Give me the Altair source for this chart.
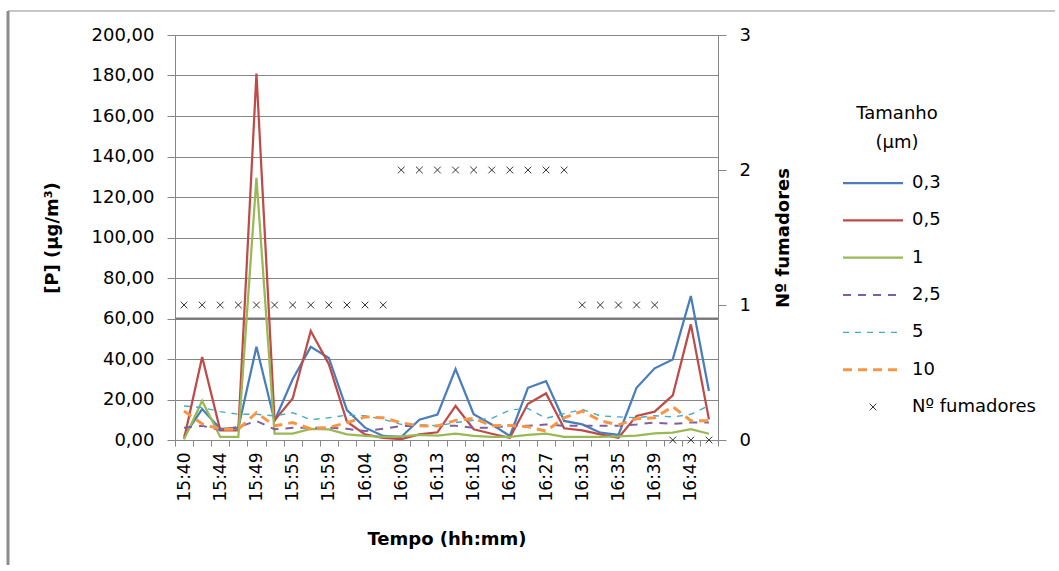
import altair as alt
import pandas as pd

# Measurement instants (one category per reading); every second one is labelled
times = ["15:40", "15:42", "15:44", "15:47", "15:49", "15:52", "15:55", "15:57",
         "15:59", "16:01", "16:04", "16:06", "16:09", "16:11", "16:13", "16:15",
         "16:18", "16:20", "16:23", "16:25", "16:27", "16:29", "16:31", "16:33",
         "16:35", "16:37", "16:39", "16:41", "16:43", "16:45"]
tick_labels = ["15:40", "15:44", "15:49", "15:55", "15:59", "16:04", "16:09", "16:13",
               "16:18", "16:23", "16:27", "16:31", "16:35", "16:39", "16:43"]

# Particle concentration [P] (µg/m³) per particle size
p_03 = [2.0, 15.3, 5.5, 6.0, 46.0, 9.5, 30.0, 46.0, 40.5, 14.8, 6.1, 2.0, 1.5, 10.0, 12.5,
        35.0, 12.7, 7.7, 2.0, 25.8, 29.1, 9.4, 7.7, 3.6, 2.5, 25.8, 35.4, 39.8, 71.1, 24.2]
p_05 = [0.5, 41.0, 4.8, 4.8, 181.0, 9.7, 20.5, 53.8, 37.4, 9.0, 2.8, 1.1, 0.4, 2.8, 3.8,
        16.8, 5.3, 3.1, 1.1, 17.9, 23.0, 5.8, 4.8, 2.8, 1.1, 11.9, 14.0, 22.0, 57.1, 10.2]
p_1 = [0.3, 19.3, 1.5, 1.5, 129.5, 3.2, 3.2, 5.5, 5.2, 2.8, 2.0, 1.5, 1.8, 2.5, 2.2,
       3.1, 2.0, 1.6, 1.6, 2.5, 3.1, 1.6, 1.6, 1.6, 1.8, 2.2, 3.3, 3.6, 5.3, 3.1]
p_25 = [6.1, 7.0, 5.0, 6.4, 9.4, 5.3, 6.0, 6.1, 6.1, 5.5, 4.4, 5.5, 6.9, 7.0, 7.0,
        7.0, 6.0, 6.1, 7.0, 7.0, 7.7, 7.0, 7.0, 7.0, 7.0, 7.7, 8.6, 8.0, 8.6, 8.6]
p_5 = [16.8, 16.0, 14.0, 12.7, 12.7, 11.9, 13.5, 10.0, 11.0, 12.3, 12.0, 10.2, 7.7, 7.5, 7.0,
       8.6, 9.7, 10.7, 14.8, 15.6, 10.7, 13.0, 15.1, 11.9, 11.4, 11.0, 12.0, 11.4, 12.7, 17.0]
p_10 = [14.3, 8.0, 5.3, 5.3, 13.5, 7.0, 8.6, 5.5, 6.2, 8.5, 11.4, 11.0, 8.5, 7.0, 6.9,
        9.7, 10.7, 7.0, 7.2, 6.5, 4.4, 11.0, 14.3, 9.5, 7.5, 10.5, 11.0, 16.5, 9.5, 9.5]

# Number of smokers present
fumadores = [1, 1, 1, 1, 1, 1, 1, 1, 1, 1, 1, 1,
             2, 2, 2, 2, 2, 2, 2, 2, 2, 2,
             1, 1, 1, 1, 1,
             0, 0, 0]

series_names = ["0,3", "0,5", "1", "2,5", "5", "10"]
series_values = [p_03, p_05, p_1, p_25, p_5, p_10]
smokers_label = "Nº fumadores"

# Styling
FONT = "DejaVu Sans"
FS = 18          # horizontal text
FS_ROT = 17      # rotated tick labels
GRID = "#868686"
series_colors = ["#4A7EBB", "#BE4B48", "#98B954", "#7D60A0", "#46AAC5", "#F79646"]
series_dash = [None, None, None, [8, 7], [6, 6], [9, 6]]
series_width = [2.25, 2.25, 2.25, 2.0, 1.4, 3.0]
CROSS = "M-1,-1L1,1M1,-1L-1,1"

W, H = 543, 405

label_expr_x = ("indexof([" + ",".join("'%s'" % t for t in tick_labels) +
                "], datum.value) >= 0 ? datum.value : ''")

x_enc = alt.X(
    "tempo:N",
    sort=times,
    bandPosition=0.5,
    scale=alt.Scale(type="band", domain=times, paddingInner=0, paddingOuter=0),
    axis=alt.Axis(
        title="Tempo (hh:mm)", titleFontWeight="bold", titleFontSize=FS,
        titlePadding=30, labelAngle=270, labelFontSize=FS_ROT, labelPadding=6,
        labelExpr=label_expr_x, labelOverlap=False, tickBand="extent",
        tickSize=6, tickColor=GRID, domainColor=GRID, labelColor="#000",
        grid=False,
    ),
)

y_left = alt.Y(
    "valor:Q",
    scale=alt.Scale(domain=[0, 200], nice=False, zero=True),
    axis=alt.Axis(
        title="[P] (µg/m³)", titleFontWeight="bold", titleFontSize=FS,
        titlePadding=30, values=list(range(0, 201, 20)),
        labelExpr="replace(format(datum.value, '.2f'), '.', ',')",
        labelFontSize=FS, labelPadding=13, tickSize=8, tickColor=GRID,
        domainColor=GRID, grid=True, gridColor=GRID, gridWidth=1,
        labelColor="#000",
    ),
)

layers = []
for name, vals, col, dash, sw in zip(series_names, series_values, series_colors,
                                     series_dash, series_width):
    df = pd.DataFrame({"tempo": times, "valor": vals, "serie": name})
    kw = dict(color=col, strokeWidth=sw)
    if dash:
        kw["strokeDash"] = dash
    layers.append(alt.Chart(df).mark_line(**kw).encode(x=x_enc, y=y_left))

# darker reference line at 60
line60 = alt.Chart(pd.DataFrame({"valor": [60]})).mark_rule(
    color="#7a7a7a", strokeWidth=2).encode(y=y_left)

# outer chart frame
one = alt.Data(values=[{"f": 1}])
frame_left = alt.Chart(one).mark_rule(color="#8c8c8c", strokeWidth=3).encode(
    x=alt.value(-167), y=alt.value(-24), y2=alt.value(530))
frame_top = alt.Chart(one).mark_rule(color="#8c8c8c", strokeWidth=1).encode(
    x=alt.value(-167), x2=alt.value(880), y=alt.value(-24))

left_group = alt.layer(line60, *layers, frame_left, frame_top)

smk_df = pd.DataFrame({"tempo": times, "fum": fumadores})
smokers = alt.Chart(smk_df).mark_point(
    shape=CROSS, size=45, filled=False, color="#333333", strokeWidth=1, opacity=1
).encode(
    x=x_enc,
    y=alt.Y("fum:Q", scale=alt.Scale(domain=[0, 3], nice=False),
            axis=alt.Axis(orient="right", title=smokers_label, titleAngle=270,
                          titleFontWeight="bold", titleFontSize=FS, titlePadding=42,
                          values=[0, 1, 2, 3], labelFontSize=FS, labelPadding=13,
                          tickSize=8, tickColor=GRID, domainColor=GRID, grid=False,
                          labelColor="#000")),
)

main = alt.layer(left_group, smokers).resolve_scale(y="independent").properties(
    width=W, height=H)

# Legend panel
legend_entries = series_names + [smokers_label]
y_leg = alt.Y("entry:N", sort=legend_entries,
              scale=alt.Scale(type="point", domain=legend_entries, range=[148, 372],
                              padding=0),
              axis=None)
leg_layers = []
for name, col, dash, sw in zip(series_names, series_colors, series_dash, series_width):
    kw = dict(color=col, strokeWidth=sw)
    if dash:
        kw["strokeDash"] = dash
    leg_layers.append(
        alt.Chart(pd.DataFrame({"entry": [name]})).mark_rule(**kw).encode(
            x=alt.value(0), x2=alt.value(60), y=y_leg))
leg_layers.append(
    alt.Chart(pd.DataFrame({"entry": [smokers_label]})).mark_point(
        shape=CROSS, size=45, filled=False, color="#333333", strokeWidth=1, opacity=1
    ).encode(x=alt.value(30), y=y_leg))
leg_layers.append(
    alt.Chart(pd.DataFrame({"entry": legend_entries})).mark_text(
        align="left", baseline="middle", fontSize=FS, font=FONT, color="#000"
    ).encode(x=alt.value(69), y=y_leg, text="entry:N"))
leg_title = ["Tamanho", "(µm)"]
for i, t in enumerate(leg_title):
    leg_layers.append(
        alt.Chart(one).mark_text(align="center", baseline="middle", fontSize=FS,
                                 font=FONT, color="#000", text=t).encode(
            x=alt.value(54), y=alt.value(79 + 29 * i)))

legend = alt.layer(*leg_layers).properties(width=200, height=H)

chart = alt.hconcat(main, legend, spacing=125, bounds="flush").properties(
    padding={"left": 6, "top": 9, "right": 0, "bottom": 0},
    background="white",
).configure_view(stroke=None).configure_axis(
    labelFont=FONT, titleFont=FONT
).configure_text(font=FONT)

chart.save("out.html", embed_options={"renderer": "svg", "actions": False})
